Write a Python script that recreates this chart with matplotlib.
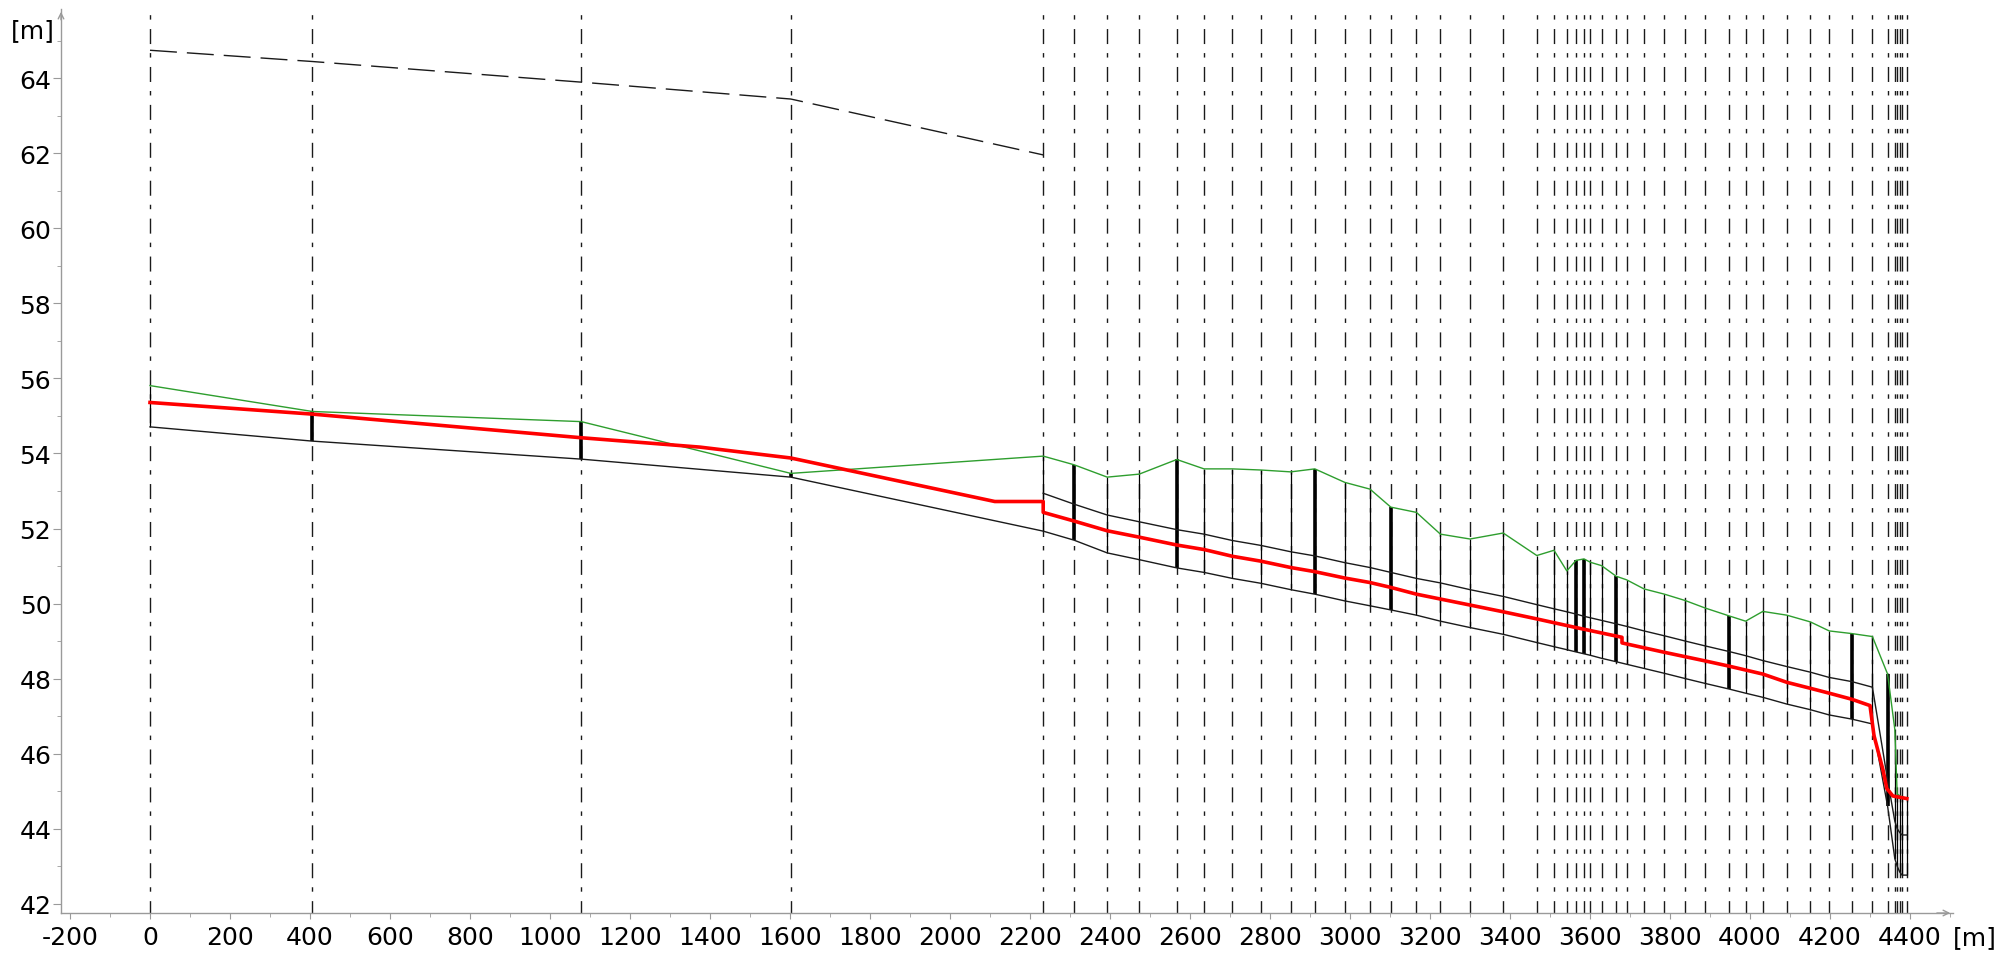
#longitudinal profile - river reach with cross sections
#water level (red), bank (green), channel top / bed (black)

import numpy as np
import matplotlib.pyplot as plt

plt.rcParams['font.family'] = ['DejaVu Sans']
plt.rcParams['lines.scale_dashes'] = False
plt.rcParams['axes.unicode_minus'] = False

#cross section stations [m]
station = [0, 406, 1078, 1602, 2233, 2310, 2393, 2473, 2567, 2635, 2706, 2777,
           2852, 2912, 2987, 3050, 3102, 3166, 3226, 3300, 3383, 3467, 3510, 3542,
           3565, 3585, 3601, 3629, 3665, 3692, 3735, 3786, 3838, 3888, 3948, 3989,
           4032, 4092, 4151, 4198, 4254, 4306, 4344, 4362, 4368, 4374, 4380, 4392]

#bank level (green)
bank = [55.81, 55.12, 54.85, 53.47, 53.93, 53.70, 53.37, 53.45, 53.84, 53.59,
        53.59, 53.56, 53.51, 53.59, 53.23, 53.05, 52.57, 52.43, 51.85, 51.72,
        51.88, 51.28, 51.42, 50.87, 51.15, 51.19, 51.10, 51.01, 50.73, 50.63,
        50.39, 50.25, 50.08, 49.88, 49.67, 49.53, 49.79, 49.69, 49.51, 49.27,
        49.20, 49.12, 48.12, 46.65, 44.92, 44.88, 44.85, 44.80]

#channel top (upper black), only from 2233 on
chan_top = [np.nan, np.nan, np.nan, np.nan, 52.94, 52.65, 52.36, 52.18, 51.97,
            51.85, 51.68, 51.55, 51.38, 51.27, 51.09, 50.96, 50.83, 50.67, 50.55,
            50.37, 50.19, 49.97, 49.86, 49.78, 49.72, 49.66, 49.62, 49.55, 49.46,
            49.39, 49.27, 49.14, 49.00, 48.87, 48.72, 48.61, 48.48, 48.32, 48.17,
            48.03, 47.92, 47.77, 45.30, 44.20, 44.00, 43.90, 43.83, 43.83]

#channel bed (lower black)
chan_bot = [54.71, 54.33, 53.85, 53.37, 51.93, 51.69, 51.35, 51.17, 50.95, 50.83,
            50.67, 50.54, 50.37, 50.25, 50.07, 49.94, 49.83, 49.69, 49.53, 49.36,
            49.18, 48.96, 48.85, 48.77, 48.71, 48.66, 48.62, 48.54, 48.45, 48.38,
            48.27, 48.14, 48.00, 47.87, 47.72, 47.61, 47.50, 47.32, 47.17, 47.03,
            46.92, 46.79, 44.60, 43.20, 43.00, 42.85, 42.76, 42.76]

#structures (heavy section lines)
heavy = [406, 1078, 1602, 2310, 2567, 2912, 3102, 3565, 3585, 3665, 3948, 4254, 4344]

#water surface
ws_x = [0, 406, 1078, 1375, 1602, 2112, 2233, 2233, 2310, 2393, 2473, 2567, 2635,
        2706, 2777, 2852, 2912, 2987, 3050, 3102, 3166, 3226, 3300, 3383, 3467,
        3565, 3680, 3680, 3786, 3888, 3948, 4032, 4092, 4151, 4198, 4254, 4300,
        4310, 4333, 4342, 4357, 4392]
ws_y = [55.36, 55.05, 54.42, 54.17, 53.88, 52.72, 52.72, 52.43, 52.20, 51.94,
        51.77, 51.56, 51.44, 51.26, 51.13, 50.96, 50.85, 50.68, 50.56, 50.43,
        50.25, 50.12, 49.96, 49.78, 49.59, 49.36, 49.10, 48.95, 48.70, 48.47,
        48.33, 48.12, 47.90, 47.74, 47.61, 47.45, 47.28, 46.48, 45.54, 45.07,
        44.87, 44.80]

#dashed upper line (first reach)
dyke_x = [0, 406, 1078, 1602, 2233]
dyke_y = [64.75, 64.45, 63.90, 63.45, 61.96]

fig = plt.figure(figsize=(20.15, 9.62), dpi=100)
ax = fig.add_axes([61 / 2015, 48 / 962, 1892 / 2015, 904 / 962])
ax.set_xlim(-222.5, 4507.5)
ax.set_ylim(41.75, 65.85)

#dash-dot station lines
ax.vlines(station, 41.75, 65.77, colors='#1a1a1a', lw=1.0,
          linestyles=[(1.9, (10.8, 6.8, 3.2, 6.5))], zorder=1)

#section lines
thin = [s for s in station if s not in heavy]
idx_thin = [station.index(s) for s in thin]
idx_heavy = [station.index(s) for s in heavy]
ax.vlines([station[i] for i in idx_thin], [chan_bot[i] for i in idx_thin],
          [bank[i] for i in idx_thin], colors='k', lw=0.9, zorder=2)
ax.vlines([station[i] for i in idx_heavy], [chan_bot[i] for i in idx_heavy],
          [bank[i] for i in idx_heavy], colors='k', lw=2.6, zorder=2)

ax.plot(station, bank, color='#2e9e2e', lw=1.0, zorder=3)
ax.plot(station, chan_top, color='#1a1a1a', lw=1.0, zorder=3)
ax.plot(station, chan_bot, color='#1a1a1a', lw=1.0, zorder=3)
ax.plot(dyke_x, dyke_y, color='#1a1a1a', lw=1.0, ls=(0, (19.4, 7.2)), zorder=3)
ax.plot(ws_x, ws_y, color='#ff0000', lw=2.6, zorder=4)

#axes style
for s in ['top', 'right']:
    ax.spines[s].set_visible(False)
for s in ['left', 'bottom']:
    ax.spines[s].set_color('#9a9a9a')
    ax.spines[s].set_linewidth(1.0)

ax.set_xticks(np.arange(-200, 4401, 200))
ax.set_xticks(np.arange(-200, 4501, 100), minor=True)
ax.set_yticks(np.arange(42, 65, 2))
ax.set_yticks(np.arange(43, 66, 2), minor=True)
ax.tick_params(axis='both', which='both', colors='#9a9a9a', labelcolor='black',
               labelsize=18)
ax.tick_params(axis='x', which='major', length=4, pad=5)
ax.tick_params(axis='x', which='minor', length=3)
ax.tick_params(axis='y', which='major', length=5.5, pad=1.5)
ax.tick_params(axis='y', which='minor', length=3)

#arrow heads on the axes
ax.annotate('', xy=(0, 1.0), xytext=(0, 0.985), xycoords='axes fraction',
            arrowprops=dict(arrowstyle='->', color='#9a9a9a', lw=1.0,
                            mutation_scale=10), annotation_clip=False)
ax.annotate('', xy=(1.0, 0), xytext=(0.99, 0), xycoords='axes fraction',
            arrowprops=dict(arrowstyle='->', color='#9a9a9a', lw=1.0,
                            mutation_scale=10), annotation_clip=False)

fig.text(33 / 2015, 1 - 31 / 962, '[m]', ha='center', va='center', fontsize=18)
fig.text(1975 / 2015, 1 - 938 / 962, '[m]', ha='center', va='center', fontsize=18)

fig.savefig('out.png', dpi=100)
